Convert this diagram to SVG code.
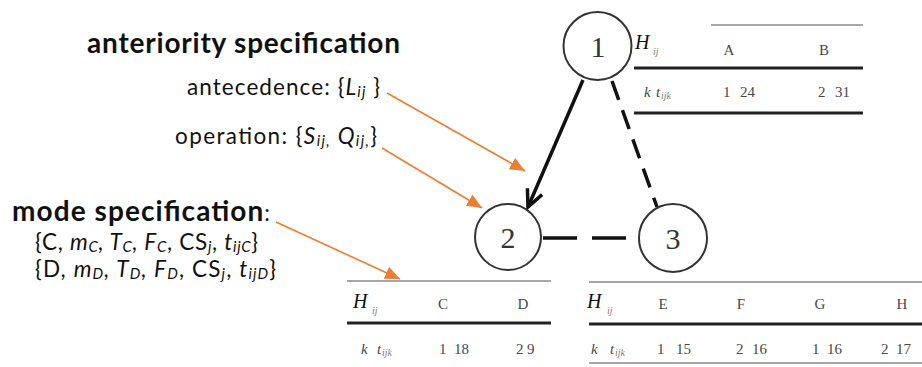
<svg xmlns="http://www.w3.org/2000/svg" width="922" height="367" viewBox="0 0 922 367">
<style>
.lbl{font-family:Lato,"Open Sans","Liberation Sans",sans-serif;font-size:22.5px;fill:#111}
.bold{font-weight:bold;font-size:28px}
.it{font-style:italic}
.num{font-family:"Liberation Serif",serif;font-size:30px;fill:#333;text-anchor:middle}
.tb{font-family:"Liberation Serif",serif;font-size:15px;fill:#484848}
.hd{text-anchor:middle}
.H{font-family:"Liberation Serif",serif;font-style:italic;font-size:20px;fill:#111}
.sub{font-family:"Liberation Serif",serif;font-style:italic;font-size:10px;fill:#777}
.node{fill:#fff;stroke:#333;stroke-width:2}
.thin{stroke:#888;stroke-width:1.6}
.thick{stroke:#222;stroke-width:3}
.org{stroke:#ED7D31;stroke-width:1.6;fill:none}
.blk{stroke:#111;stroke-width:3.5;fill:none}
</style>
<defs>
<marker id="oa" markerUnits="userSpaceOnUse" markerWidth="16" markerHeight="14" refX="15" refY="6.5" orient="auto">
<path d="M0,0 L15,6.5 L0,13 z" fill="#ED7D31"/>
</marker>
<marker id="ba" markerUnits="userSpaceOnUse" markerWidth="24" markerHeight="22" refX="19" refY="10" orient="auto">
<path d="M2,2 L19,10 L2,18" fill="none" stroke="#111" stroke-width="3.5"/>
</marker>
</defs>

<g id="labels">
<text class="lbl bold" x="87" y="53" textLength="313">anteriority specification</text>
<text class="lbl" x="187" y="95" textLength="193">antecedence: {<tspan class="it">L</tspan><tspan class="it" font-size="15" dy="2">ij</tspan><tspan dy="-2"> }</tspan></text>
<text class="lbl" x="175" y="144" textLength="202">operation: {<tspan class="it">S</tspan><tspan class="it" font-size="15" dy="2">ij,</tspan><tspan dy="-2" class="it"> Q</tspan><tspan class="it" font-size="15" dy="2">ij,</tspan><tspan dy="-2">}</tspan></text>
<text class="lbl" x="12" y="221" textLength="258"><tspan font-weight="bold" font-size="28">mode specification</tspan>:</text>
<text class="lbl" x="35" y="250" textLength="223">{C, <tspan class="it">m</tspan><tspan class="it" font-size="15" dy="2">C</tspan><tspan dy="-2" class="it">, T</tspan><tspan class="it" font-size="15" dy="2">C</tspan><tspan dy="-2" class="it">, F</tspan><tspan class="it" font-size="15" dy="2">C</tspan><tspan dy="-2">, CS</tspan><tspan class="it" font-size="15" dy="2">j</tspan><tspan dy="-2">, </tspan><tspan class="it">t</tspan><tspan class="it" font-size="15" dy="2">ijC</tspan><tspan dy="-2">}</tspan></text>
<text class="lbl" x="35" y="277" textLength="241">{D, <tspan class="it">m</tspan><tspan class="it" font-size="15" dy="2">D</tspan><tspan dy="-2" class="it">, T</tspan><tspan class="it" font-size="15" dy="2">D</tspan><tspan dy="-2" class="it">, F</tspan><tspan class="it" font-size="15" dy="2">D</tspan><tspan dy="-2">, CS</tspan><tspan class="it" font-size="15" dy="2">j</tspan><tspan dy="-2">, </tspan><tspan class="it">t</tspan><tspan class="it" font-size="15" dy="2">ijD</tspan><tspan dy="-2">}</tspan></text>
</g>

<g id="connectors">
<line class="blk" x1="583" y1="80" x2="528" y2="207" marker-end="url(#ba)"/>
<line class="blk" x1="612" y1="81" x2="657" y2="207" stroke-dasharray="20 11"/>
<line class="blk" x1="543" y1="238" x2="638" y2="238" stroke-dasharray="34 15"/>
<line class="org" x1="387" y1="93" x2="525" y2="171" marker-end="url(#oa)"/>
<line class="org" x1="382" y1="148" x2="482" y2="208" marker-end="url(#oa)"/>
<line class="org" x1="276" y1="222" x2="400" y2="279" marker-end="url(#oa)"/>
</g>

<g id="node1">
<circle class="node" cx="597.5" cy="46" r="34"/>
<text class="num" x="598" y="57">1</text>
</g>
<g id="node2">
<circle class="node" cx="508" cy="237" r="33"/>
<text class="num" x="508" y="248">2</text>
</g>
<g id="node3">
<circle class="node" cx="673" cy="238" r="34"/>
<text class="num" x="673" y="249">3</text>
</g>

<g id="table1">
<line class="thin" x1="711" y1="25" x2="863" y2="25"/>
<text class="H" x="635" y="49">H</text><text class="sub" x="653" y="55">ij</text>
<text class="tb hd" x="729" y="55">A</text>
<text class="tb hd" x="824" y="55">B</text>
<line class="thick" x1="634" y1="68" x2="863" y2="68"/>
<text class="tb it" x="644" y="97">k</text><text class="tb it" x="656" y="97">t</text><text class="sub" x="661" y="99">ijk</text>
<text class="tb" x="723" y="97">1</text><text class="tb" x="740" y="97">24</text>
<text class="tb" x="818" y="97">2</text><text class="tb" x="835" y="97">31</text>
<line class="thick" x1="634" y1="113" x2="863" y2="113"/>
</g>

<g id="table2">
<line class="thin" x1="347" y1="281" x2="551" y2="281"/>
<text class="H" x="353" y="308">H</text><text class="sub" x="372" y="314">ij</text>
<text class="tb hd" x="443" y="309">C</text>
<text class="tb hd" x="523" y="309">D</text>
<line class="thick" x1="347" y1="323" x2="551" y2="323"/>
<text class="tb it" x="361" y="354">k</text><text class="tb it" x="377" y="354">t</text><text class="sub" x="382" y="356">ijk</text>
<text class="tb" x="439" y="354">1</text><text class="tb" x="454" y="354">18</text>
<text class="tb" x="516" y="354">2</text><text class="tb" x="527" y="354">9</text>
</g>

<g id="table3">
<line class="thin" x1="589" y1="282" x2="922" y2="282"/>
<text class="H" x="587" y="308">H</text><text class="sub" x="607" y="314">ij</text>
<text class="tb hd" x="663" y="309">E</text>
<text class="tb hd" x="741" y="309">F</text>
<text class="tb hd" x="820" y="309">G</text>
<text class="tb hd" x="902" y="309">H</text>
<line class="thick" x1="589" y1="324" x2="922" y2="324"/>
<text class="tb it" x="591" y="354">k</text><text class="tb it" x="610" y="354">t</text><text class="sub" x="615" y="356">ijk</text>
<text class="tb" x="657" y="354">1</text><text class="tb" x="676" y="354">15</text>
<text class="tb" x="736" y="354">2</text><text class="tb" x="752" y="354">16</text>
<text class="tb" x="812" y="354">1</text><text class="tb" x="827" y="354">16</text>
<text class="tb" x="881" y="354">2</text><text class="tb" x="896" y="354">17</text>
<line class="thin" x1="589" y1="363" x2="922" y2="363"/>
</g>
</svg>
